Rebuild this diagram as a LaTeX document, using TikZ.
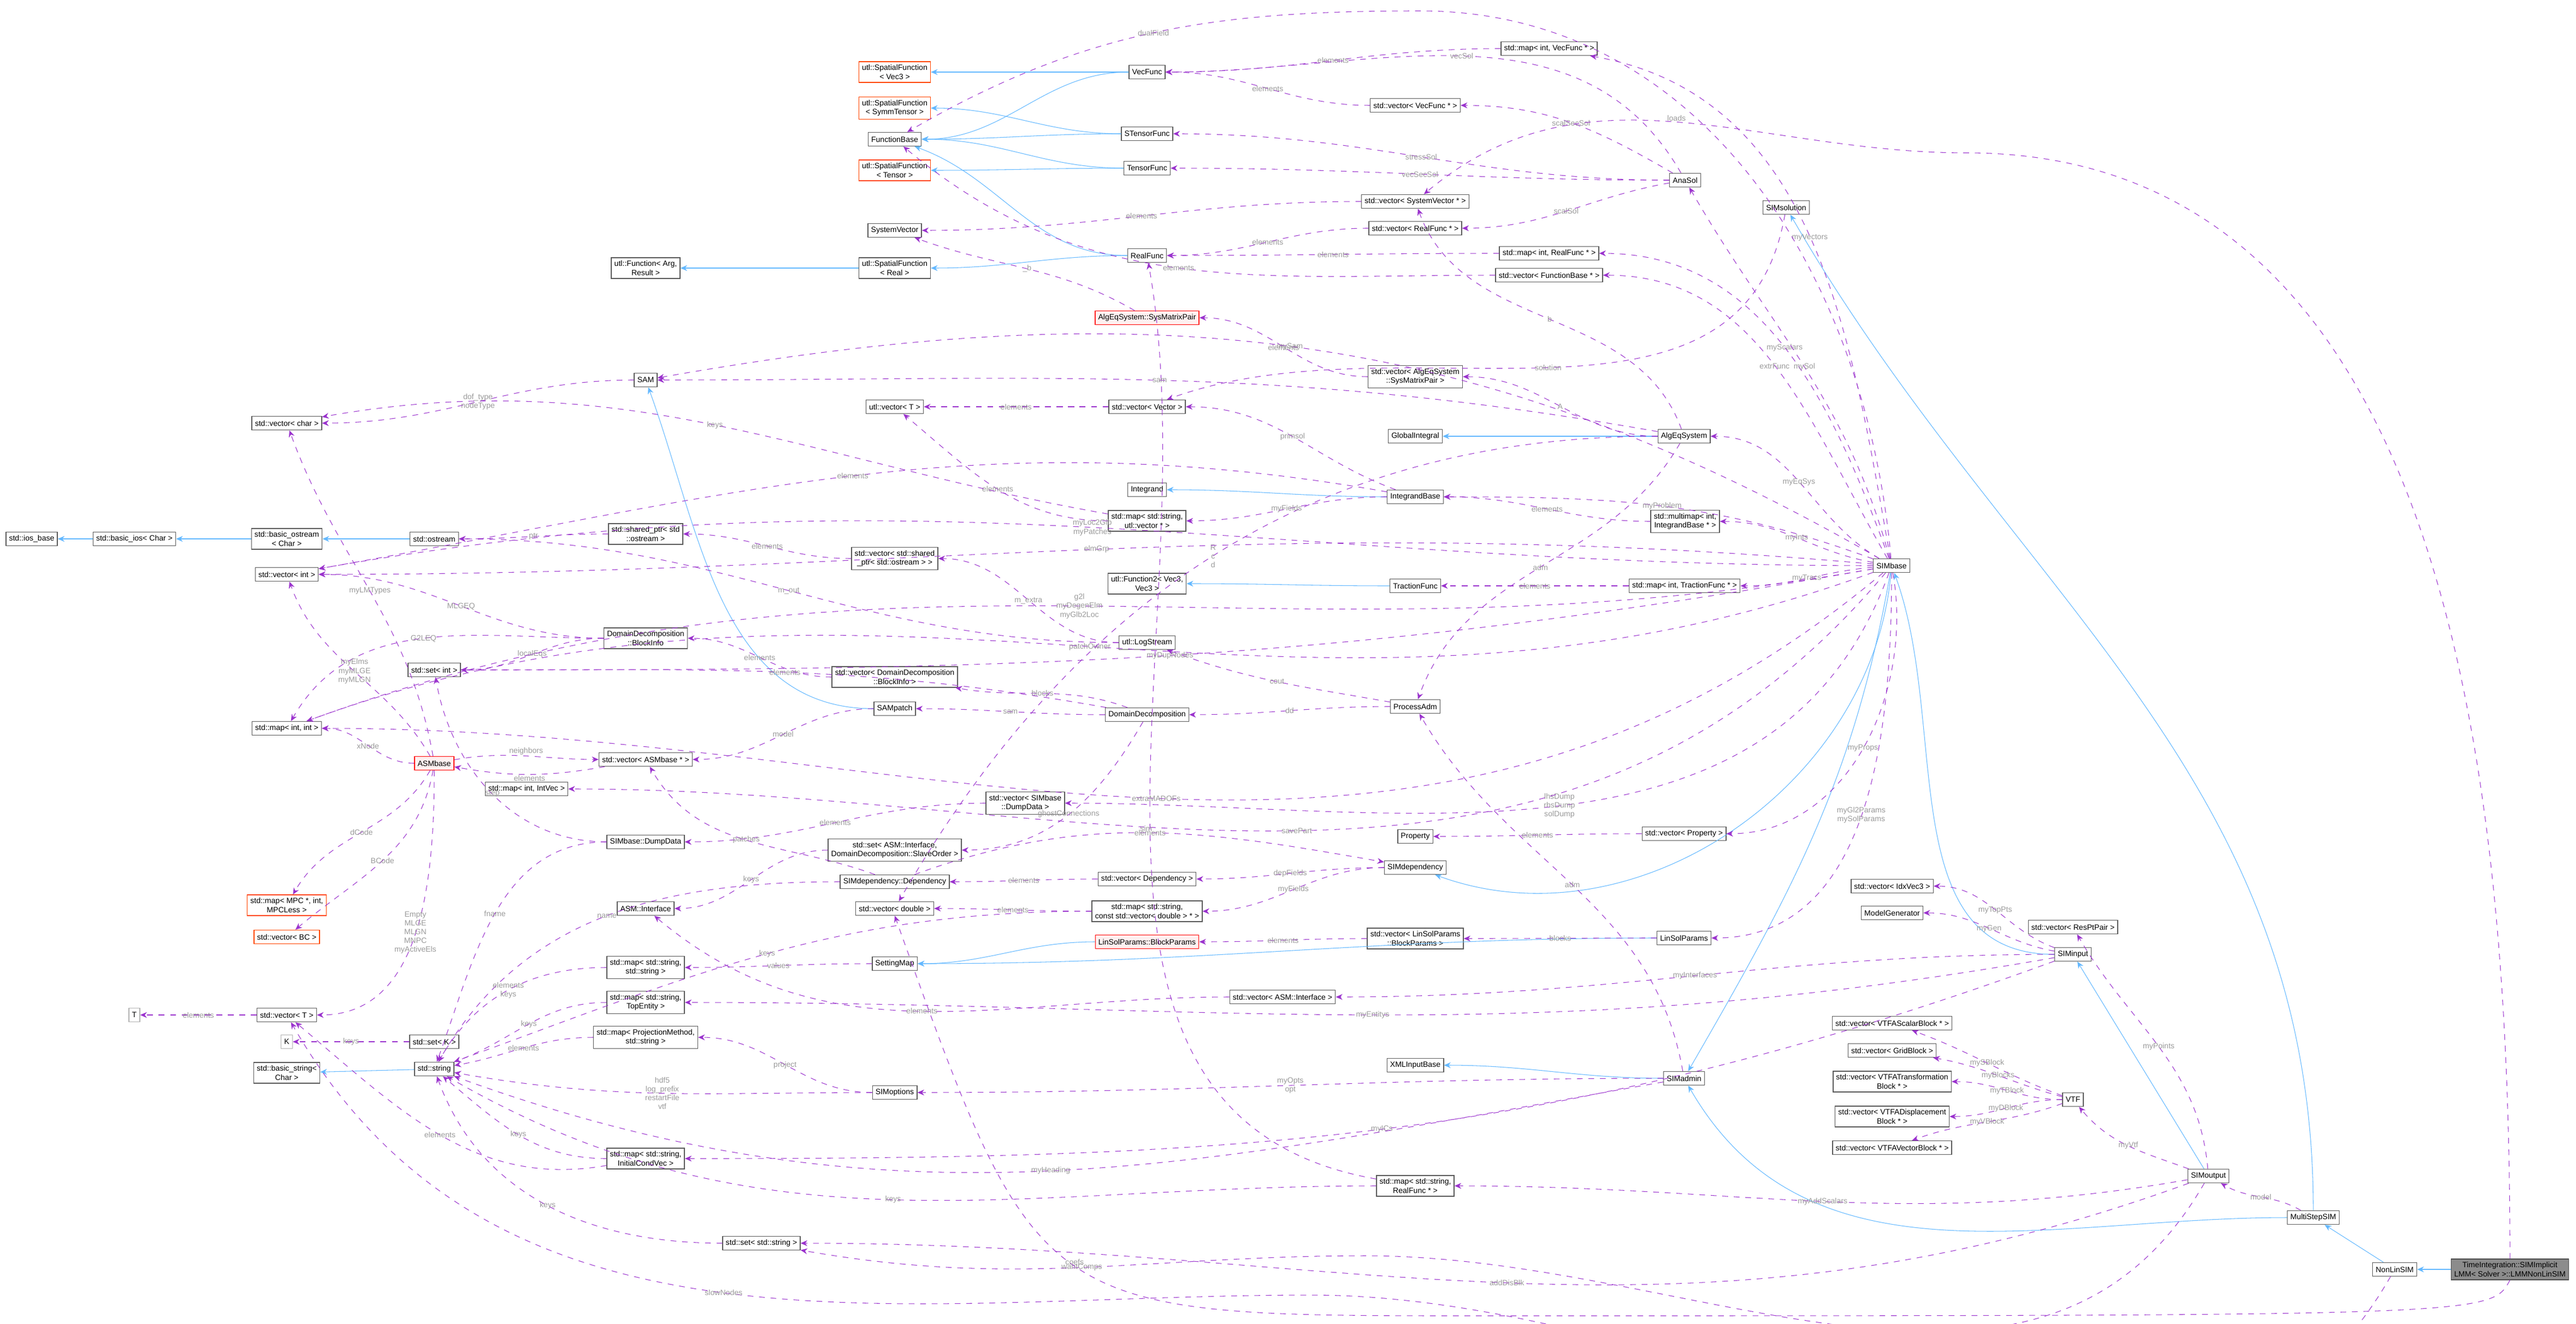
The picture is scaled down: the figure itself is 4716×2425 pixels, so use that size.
\documentclass[tikz,border=0pt]{standalone}
\usepackage{fontspec}
\setmainfont{Liberation Sans}
\usetikzlibrary{arrows.meta}
\definecolor{purp}{HTML}{9A32CD}
\definecolor{sky}{HTML}{63B8FF}
\definecolor{lblgray}{HTML}{9A9A9A}
\definecolor{orng}{HTML}{FF4500}
\tikzset{
  box/.style={draw=black!65, fill=white, line width=0.4pt, inner sep=1.6pt,
    minimum height=0.25cm, font=\fontsize{4}{4.6}\selectfont, align=center},
  redbox/.style={box, draw=red, fill=red!6},
  orgbox/.style={box, draw=orng},
  litebox/.style={box, draw=black!30},
  curbox/.style={box, fill=black!45, draw=black!70},
  lbl/.style={font=\fontsize{4}{4.6}\selectfont, text=lblgray, align=center, inner sep=0.5pt, fill=none},
  use/.style={draw=purp, dashed, line width=0.3pt, -{Stealth[length=3.5pt,width=3pt]}},
  inh/.style={draw=sky, line width=0.3pt, -{Stealth[length=3.5pt,width=3pt]}},
  hl/.style={out=180,in=0},
}
\begin{document}
\begin{tikzpicture}[x=0.01cm,y=-0.01cm]
\useasboundingbox (0,0) rectangle (4716,2425);

% left column
\node[box] (ios) at (58,987) {std::ios\_base};
\node[box] (basicios) at (246,987) {std::basic\_ios< Char >};
\node[box] (bostream) at (525,987) {std::basic\_ostream\\< Char >};
\node[box] (ostream) at (795,987) {std::ostream};
\node[box] (sptr) at (1182,978) {std::shared\_ptr< std\\::ostream >};
\node[box] (vint) at (525,1052) {std::vector< int >};
\node[box] (vchar) at (525,775) {std::vector< char >};
\node[box] (sam) at (1182,696) {SAM};
\node[box] (ufunc) at (1182,491) {utl::Function< Arg,\\Result >};
\node[box] (blkinfo) at (1182,1169) {DomainDecomposition\\::BlockInfo};
\node[box] (setint) at (795,1227) {std::set< int >};
\node[box] (mapii) at (525,1334) {std::map< int, int >};
\node[redbox] (asm) at (795,1398) {ASMbase};
\node[box] (vasm) at (1182,1391) {std::vector< ASMbase * >};
\node[box] (mapiv) at (964,1445) {std::map< int, IntVec >};
\node[box] (dump) at (1182,1542) {SIMbase::DumpData};
\node[orgbox] (mapmpc) at (525,1658) {std::map< MPC *, int,\\MPCLess >};
\node[orgbox] (vbc) at (525,1716) {std::vector< BC >};
\node[box] (asmif) at (1182,1664) {ASM::Interface};
\node[box] (mapss) at (1182,1772) {std::map< std::string,\\std::string >};
\node[box] (mapste) at (1182,1836) {std::map< std::string,\\TopEntity >};
\node[box] (mappm) at (1182,1900) {std::map< ProjectionMethod,\\std::string >};
\node[litebox] (T) at (246,1859) {T};
\node[box] (vT) at (525,1859) {std::vector< T >};
\node[litebox] (K) at (525,1908) {K};
\node[box] (setK) at (795,1908) {std::set< K >};
\node[box] (bstring) at (525,1965) {std::basic\_string<\\Char >};
\node[box] (string) at (795,1958) {std::string};
\node[box] (mapsic) at (1182,2122) {std::map< std::string,\\InitialCondVec >};
\node[box] (setstr) at (1394,2277) {std::set< std::string >};

% functions
\node[orgbox] (sfvec) at (1638,132) {utl::SpatialFunction\\< Vec3 >};
\node[orgbox] (sfsym) at (1638,198) {utl::SpatialFunction\\< SymmTensor >};
\node[box] (fbase) at (1638,255) {FunctionBase};
\node[orgbox] (sften) at (1638,312) {utl::SpatialFunction\\< Tensor >};
\node[box] (sysvec) at (1638,422) {SystemVector};
\node[box] (sfreal) at (1638,491) {utl::SpatialFunction\\< Real >};
\node[box] (vecfunc) at (2100,132) {VecFunc};
\node[box] (stensor) at (2100,245) {STensorFunc};
\node[box] (tensor) at (2100,308) {TensorFunc};
\node[box] (realfunc) at (2100,468) {RealFunc};
\node[redbox] (smp) at (2100,582) {AlgEqSystem::SysMatrixPair};
\node[box] (uvT) at (1638,745) {utl::vector< T >};
\node[box] (vvector) at (2100,745) {std::vector< Vector >};
\node[box] (integrand) at (2100,897) {Integrand};
\node[box] (mapsuv) at (2100,954) {std::map< std::string,\\utl::vector * >};
\node[box] (vsptr) at (1638,1023) {std::vector< std::shared\\\_ptr< std::ostream > >};
\node[box] (ufunc2) at (2100,1069) {utl::Function2< Vec3,\\Vec3 >};
\node[box] (logstream) at (2100,1177) {utl::LogStream};
\node[box] (mapivf) at (2836,89) {std::map< int, VecFunc * >};
\node[box] (vvf) at (2591,193) {std::vector< VecFunc * >};
\node[box] (vsv) at (2591,369) {std::vector< SystemVector * >};
\node[box] (vrf) at (2591,418) {std::vector< RealFunc * >};
\node[box] (mapirf) at (2836,464) {std::map< int, RealFunc * >};
\node[box] (vfb) at (2836,504) {std::vector< FunctionBase * >};
\node[box] (vsmp) at (2591,690) {std::vector< AlgEqSystem\\::SysMatrixPair >};
\node[box] (gint) at (2591,799) {GlobalIntegral};
\node[box] (intb) at (2591,910) {IntegrandBase};
\node[box] (trac) at (2591,1073) {TractionFunc};
\node[box] (anasol) at (3085,330) {AnaSol};
\node[box] (algeq) at (3083,799) {AlgEqSystem};
\node[box] (mmap) at (3085,955) {std::multimap< int,\\IntegrandBase * >};
\node[box] (maptrac) at (3084,1073) {std::map< int, TractionFunc * >};
\node[box] (simsol) at (3270,380) {SIMsolution};
\node[box] (simbase) at (3463,1036) {SIMbase};

% middle lower
\node[box] (vbi) at (1638,1240) {std::vector< DomainDecomposition\\::BlockInfo >};
\node[box] (sampatch) at (1638,1298) {SAMpatch};
\node[box] (dd) at (2100,1309) {DomainDecomposition};
\node[box] (padm) at (2591,1294) {ProcessAdm};
\node[box] (vdump) at (1877,1471) {std::vector< SIMbase\\::DumpData >};
\node[box] (setif) at (1638,1557) {std::set< ASM::Interface,\\DomainDecomposition::SlaveOrder >};
\node[box] (dep) at (1638,1615) {SIMdependency::Dependency};
\node[box] (vdep) at (2100,1610) {std::vector< Dependency >};
\node[box] (simdep) at (2591,1589) {SIMdependency};
\node[box] (vdouble) at (1638,1664) {std::vector< double >};
\node[box] (mapscvd) at (2100,1669) {std::map< std::string,\\const std::vector< double > * >};
\node[redbox] (bparams) at (2100,1725) {LinSolParams::BlockParams};
\node[box] (vbparams) at (2591,1719) {std::vector< LinSolParams\\::BlockParams >};
\node[box] (setmap) at (1638,1765) {SettingMap};
\node[box] (vif) at (2348,1826) {std::vector< ASM::Interface >};
\node[box] (prop) at (2591,1532) {Property};
\node[box] (vprop) at (3083,1527) {std::vector< Property >};
\node[box] (xml) at (2591,1951) {XMLInputBase};
\node[box] (simopt) at (1638,2001) {SIMoptions};
\node[box] (mapsrf) at (2591,2172) {std::map< std::string,\\RealFunc * >};
\node[box] (simadmin) at (3083,1975) {SIMadmin};
\node[box] (linsol) at (3083,1718) {LinSolParams};

% right lower
\node[box] (vidx) at (3464,1623) {std::vector< IdxVec3 >};
\node[box] (mgen) at (3464,1672) {ModelGenerator};
\node[box] (vres) at (3795,1698) {std::vector< ResPtPair >};
\node[box] (siminput) at (3795,1748) {SIMinput};
\node[box] (vsblk) at (3464,1874) {std::vector< VTFAScalarBlock * >};
\node[box] (vgrid) at (3464,1924) {std::vector< GridBlock >};
\node[box] (vtblk) at (3464,1981) {std::vector< VTFATransformation\\Block * >};
\node[box] (vdblk) at (3464,2045) {std::vector< VTFADisplacement\\Block * >};
\node[box] (vvblk) at (3464,2102) {std::vector< VTFAVectorBlock * >};
\node[box] (vtf) at (3795,2014) {VTF};
\node[box] (simout) at (4043,2154) {SIMoutput};
\node[box] (msim) at (4235,2230) {MultiStepSIM};
\node[box] (nlsim) at (4384,2325) {NonLinSIM};
\node[curbox] (lmm) at (4595,2325) {TimeIntegration::SIMImplicit\\LMM< Solver >::LMMNonLinSIM};

\coordinate (loadsc) at (3600,280);
\coordinate (dualc) at (2600,20);
\coordinate (coefsc) at (2700,2410);
\coordinate (slowc) at (2400,2372);
\coordinate (wantc) at (2500,2300);

% inheritance
\draw[inh] (basicios) -- (ios);
\draw[inh] (bostream) -- (basicios);
\draw[inh] (ostream) -- (bostream);
\draw[inh] (vecfunc) -- (sfvec);
\draw[inh] (vecfunc) to[hl] (fbase);
\draw[inh] (stensor) to[hl] (sfsym);
\draw[inh] (stensor) to[hl] (fbase);
\draw[inh] (tensor) to[hl] (sften);
\draw[inh] (tensor) to[hl] (fbase);
\draw[inh] (realfunc) to[hl] (sfreal);
\draw[inh] (realfunc) to[out=180,in=-20] (fbase);
\draw[inh] (sfreal) to[hl] (ufunc);
\draw[inh] (intb) to[hl] (integrand);
\draw[inh] (trac) to[hl] (ufunc2);
\draw[inh] (algeq) to[hl] (gint);
\draw[inh] (sampatch) to[out=180,in=-70] (sam);
\draw[inh] (bparams) to[hl] (setmap);
\draw[inh] (linsol) to[hl] (setmap);
\draw[inh] (string) -- (bstring);
\draw[inh] (simadmin) to[hl] (xml);
\draw[inh] (simbase) to[out=-100,in=60] (simadmin);
\draw[inh] (simbase) to[out=-95,in=-20] (simdep);
\draw[inh] (msim) to[out=90,in=-60] (simsol);
\draw[inh] (msim) to[out=180,in=-60] (simadmin);
\draw[inh] (siminput) to[out=180,in=-70] (simbase);
\draw[inh] (simout) -- (siminput);
\draw[inh] (nlsim) -- (msim);
\draw[inh] (lmm) -- (nlsim);

% usage
\draw[use] (sam) to[hl] node[lbl]{dof\_type\\nodeType} (vchar);
\draw[use] (sptr) to[hl] node[lbl]{ptr} (ostream);
\draw[use] (vsptr) to[hl] node[lbl]{elements} (sptr);
\draw[use] (logstream) to[hl] node[lbl]{m\_out} (ostream);
\draw[use] (logstream) to[hl] node[lbl]{m\_extra} (vsptr);
\draw[use] (blkinfo) to[hl] node[lbl]{MLGEQ} (vint);
\draw[use] (blkinfo) to[hl] node[lbl]{localEqs} (setint);
\draw[use] (blkinfo) to[out=180,in=60] node[lbl]{G2LEQ} (mapii);
\draw[use] (vbi) to[hl] node[lbl]{elements} (blkinfo);
\draw[use] (asm) to[out=100,in=-70] node[lbl]{myLMTypes} (vchar);
\draw[use] (asm) to[out=120,in=-70] node[lbl]{myElms\\myMLGE\\myMLGN} (vint);
\draw[use] (asm) to[hl] node[lbl]{xNode} (mapii);
\draw[use] (asm) to[out=-120,in=60] node[lbl]{dCode} (mapmpc);
\draw[use] (asm) to[out=-100,in=40] node[lbl]{BCode} (vbc);
\draw[use] (asm) to[out=-90,in=0] node[lbl]{Empty\\MLGE\\MLGN\\MNPC\\myActiveEls} (vT);
\draw[use] (asm) to[out=10,in=180] node[lbl,above]{neighbors} (vasm);
\draw[use] (vasm) to[out=190,in=-10] node[lbl,below]{elements} (asm);
\draw[use] (sampatch) to[hl] node[lbl]{model} (vasm);
\draw[use] (simbase) to[out=200,in=20] node[lbl]{patchOwner} (mapii);
\draw[use] (dump) to[out=180,in=-80] node[lbl]{step} (setint);
\draw[use] (dump) to[out=180,in=70] node[lbl]{fname} (string);
\draw[use] (vdump) to[hl] node[lbl]{elements} (dump);
\draw[use] (simbase) to[out=-110,in=0] node[lbl]{lhsDump\\rhsDump\\solDump} (vdump);
\draw[use] (simbase) to[out=-130,in=0] node[lbl]{savePart} (mapiv);
\draw[use] (setif) to[hl] node[lbl]{keys} (asmif);
\draw[use] (dep) to[out=180,in=60] node[lbl]{name} (string);
\draw[use] (dep) to[out=160,in=-60] node[lbl]{patches} (vasm);
\draw[use] (vdep) to[hl] node[lbl]{elements} (dep);
\draw[use] (simdep) to[hl] node[lbl]{depFields} (vdep);
\draw[use] (simdep) to[hl] node[lbl]{myFields} (mapscvd);
\draw[use] (dep) to[out=20,in=170] node[lbl,above]{sim} (simdep);
\draw[use] (mapscvd) to[hl] node[lbl]{elements} (vdouble);
\draw[use] (mapscvd) to[out=180,in=20] node[lbl]{keys} (string);
\draw[use] (mapss) to[out=180,in=60] node[lbl]{elements\\keys} (string);
\draw[use] (setmap) to[out=180,in=0] node[lbl]{values} (mapss);
\draw[use] (mapste) to[out=180,in=20] node[lbl]{keys} (string);
\draw[use] (mappm) to[out=180,in=10] node[lbl]{elements} (string);
\draw[use] (simopt) to[hl] node[lbl]{project} (mappm);
\draw[use] (simopt) to[out=180,in=-10] node[lbl]{hdf5\\log\_prefix\\restartFile\\vtf} (string);
\draw[use] (setK) to[hl] node[lbl]{keys} (K);
\draw[use] (vT) to[hl] node[lbl]{elements} (T);
\draw[use] (setstr) to[out=180,in=-70] node[lbl]{keys} (string);
\draw[use] (mapsic) to[out=180,in=-40] node[lbl]{keys} (string);
\draw[use] (mapsic) to[out=190,in=-40] node[lbl]{elements} (vT);
\draw[use] (siminput) to[out=200,in=0] node[lbl]{myICs} (mapsic);
\draw[use] (mapsrf) to[out=180,in=-30] node[lbl]{keys} (string);
\draw[use] (mapsrf) to[out=170,in=-80] node[lbl]{elements} (realfunc);
\draw[use] (simout) to[out=200,in=0] node[lbl]{addDisBlk} (setstr);
\draw[use] (simout) to[out=190,in=0] node[lbl]{myAddScalars} (mapsrf);
\draw[use] (vif) to[out=180,in=-40] node[lbl]{elements} (asmif);
\draw[use] (siminput) to[out=180,in=0] node[lbl]{myInterfaces} (vif);
\draw[use] (siminput) to[out=190,in=0] node[lbl]{myEntitys} (mapste);
\draw[use] (vbparams) to[hl] node[lbl]{elements} (bparams);
\draw[use] (linsol) to[hl] node[lbl]{blocks} (vbparams);
\draw[use] (vprop) to[hl] node[lbl]{elements} (prop);
\draw[use] (simbase) to[out=-80,in=0] node[lbl]{myProps} (vprop);
\draw[use] (simbase) to[out=-90,in=0] node[lbl]{myGl2Params\\mySolParams} (linsol);
\draw[use] (padm) to[hl] node[lbl]{dd} (dd);
\draw[use] (padm) to[out=170,in=-20] node[lbl]{cout} (logstream);
\draw[use] (simadmin) to[out=100,in=-60] node[lbl]{adm} (padm);
\draw[use] (algeq) to[out=-120,in=70] node[lbl]{adm} (padm);
\draw[use] (simadmin) to[hl] node[lbl]{myOpts\\opt} (simopt);
\draw[use] (simadmin) to[out=190,in=-20] node[lbl]{myHeading} (string);
\draw[use] (dd) to[out=160,in=-10] node[lbl]{blocks} (vbi);
\draw[use] (dd) to[hl] node[lbl]{sam} (sampatch);
\draw[use] (dd) to[out=-120,in=0] node[lbl]{ghostConnections} (setif);
\draw[use] (dd) to[out=170,in=0] node[lbl]{elements} (setint);
\draw[use] (simbase) to[out=190,in=0] node[lbl]{myDupNodes} (setint);
\draw[use] (simbase) to[out=-140,in=0] node[lbl]{extraMADOFs} (mapii);
\draw[use] (mapivf) to[hl] node[lbl]{elements} (vecfunc);
\draw[use] (vvf) to[hl] node[lbl]{elements} (vecfunc);
\draw[use] (anasol) to[out=120,in=0] node[lbl]{vecSol} (vecfunc);
\draw[use] (anasol) to[out=150,in=0] node[lbl]{scalSecSol} (vvf);
\draw[use] (anasol) to[hl] node[lbl]{stressSol} (stensor);
\draw[use] (anasol) to[hl] node[lbl]{vecSecSol} (tensor);
\draw[use] (anasol) to[out=190,in=0] node[lbl]{scalSol} (vrf);
\draw[use] (vrf) to[hl] node[lbl]{elements} (realfunc);
\draw[use] (mapirf) to[hl] node[lbl]{elements} (realfunc);
\draw[use] (vfb) to[out=180,in=-40] node[lbl]{elements} (fbase);
\draw[use] (vsv) to[hl] node[lbl]{elements} (sysvec);
\draw[use] (smp) to[out=150,in=-20] node[lbl]{\_b} (sysvec);
\draw[use] (vsmp) to[hl] node[lbl]{elements} (smp);
\draw[use] (algeq) to[hl] node[lbl]{A} (vsmp);
\draw[use] (algeq) to[out=110,in=-70] node[lbl]{b} (vsv);
\draw[use] (algeq) to[out=170,in=0] node[lbl]{sam} (sam);
\draw[use] (algeq) to[out=180,in=60] node[lbl]{R\\c\\d} (vdouble);
\draw[use] (simbase) to[out=150,in=10] node[lbl]{mySam} (sam);
\draw[use] (simbase) to[out=100,in=-10] node[lbl]{myVectors} (mapivf);
\draw[use] (simbase) to[out=110,in=0] node[lbl]{myScalars} (mapirf);
\draw[use] (simbase) to[out=120,in=0] node[lbl]{extrFunc} (vfb);
\draw[use] (simbase) to[out=95,in=0] (dualc) to[out=180,in=30] node[lbl]{dualField} (fbase);
\draw[use] (simbase) to[out=105,in=-60] node[lbl]{mySol} (anasol);
\draw[use] (simbase) to[out=150,in=0] node[lbl]{myEqSys} (algeq);
\draw[use] (simbase) to[out=160,in=0] node[lbl]{myProblem} (intb);
\draw[use] (simbase) to[out=170,in=0] node[lbl]{myInts} (mmap);
\draw[use] (mmap) to[hl] node[lbl]{elements} (intb);
\draw[use] (simbase) to[out=185,in=0] node[lbl]{myTracs} (maptrac);
\draw[use] (maptrac) to[hl] node[lbl]{elements} (trac);
\draw[use] (vvector) to[hl] node[lbl]{elements} (uvT);
\draw[use] (intb) to[out=160,in=0] node[lbl]{primsol} (vvector);
\draw[use] (intb) to[hl] node[lbl]{myFields} (mapsuv);
\draw[use] (mapsuv) to[out=180,in=-40] node[lbl]{elements} (uvT);
\draw[use] (mapsuv) to[out=170,in=10] node[lbl]{keys} (vchar);
\draw[use] (intb) to[out=170,in=10] node[lbl]{elements} (vint);
\draw[use] (simsol) to[out=-100,in=20] node[lbl]{solution} (vvector);
\draw[use] (simbase) to[out=175,in=0] node[lbl]{elmGrp} (vint);
\draw[use] (simbase) to[out=180,in=10] node[lbl]{myLoc2Glb\\myPatches} (vint);
\draw[use] (simbase) to[out=190,in=20] node[lbl]{g2l\\myDegenElm\\myGlb2Loc} (mapii);
\draw[use] (siminput) to[out=160,in=0] node[lbl]{myTopPts} (vidx);
\draw[use] (siminput) to[out=170,in=0] node[lbl]{myGen} (mgen);
\draw[use] (simout) to[out=95,in=-60] node[lbl]{myPoints} (vres);
\draw[use] (vtf) to[out=160,in=-20] node[lbl]{mySBlock} (vsblk);
\draw[use] (vtf) to[out=165,in=-10] node[lbl]{myBlocks} (vgrid);
\draw[use] (vtf) to[hl] node[lbl]{myTBlock} (vtblk);
\draw[use] (vtf) to[hl] node[lbl]{myDBlock} (vdblk);
\draw[use] (vtf) to[out=200,in=20] node[lbl]{myVBlock} (vvblk);
\draw[use] (simout) to[out=160,in=-50] node[lbl]{myVtf} (vtf);
\draw[use] (msim) to[out=150,in=-30] node[lbl]{model} (simout);
\draw[use] (simout) to[out=-120,in=0] (wantc) to[out=180,in=-10] node[lbl]{wantComps} (setstr);
\draw[use] (nlsim) to[out=-120,in=0] (slowc) to[out=180,in=-60] node[lbl]{slowNodes} (vT);
\draw[use] (lmm.north) to[out=90,in=0] (loadsc) to[out=180,in=40] node[lbl,above]{loads} (vsv);
\draw[use] (lmm.south) .. controls (4560,2410) .. (coefsc) .. controls (1900,2410) .. node[lbl,above]{coefs} (vdouble.south);
\end{tikzpicture}
\end{document}
